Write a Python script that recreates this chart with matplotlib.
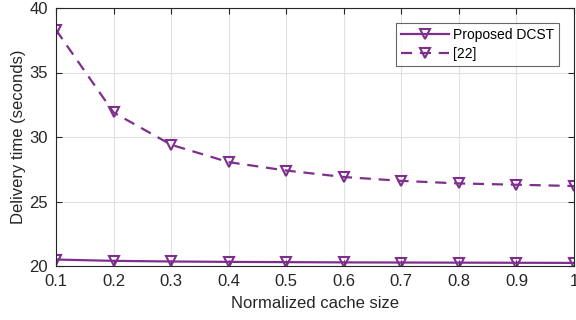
import matplotlib
matplotlib.use("Agg")
import matplotlib.pyplot as plt

x = [0.1, 0.2, 0.3, 0.4, 0.5, 0.6, 0.7, 0.8, 0.9, 1.0]
proposed = [20.5, 20.4, 20.35, 20.32, 20.3, 20.28, 20.27, 20.26, 20.25, 20.24]
ref22 = [38.3, 31.9, 29.4, 28.05, 27.4, 26.9, 26.6, 26.4, 26.3, 26.2]
xticks = [0.1, 0.2, 0.3, 0.4, 0.5, 0.6, 0.7, 0.8, 0.9, 1]
xticklabels = ["0.1", "0.2", "0.3", "0.4", "0.5", "0.6", "0.7", "0.8", "0.9", "1"]
yticks = [20, 25, 30, 35, 40]

plt.rcParams['font.family'] = ['Liberation Sans', 'DejaVu Sans']
color = '#7E2F8E'

fig = plt.figure(figsize=(5.76, 3.2), dpi=100)
ax = fig.add_axes([56/576, 1-266/320, (574-56)/576, (266-8)/320])
ax.plot(x, proposed, '-', color=color, lw=1.6, marker='v', markersize=7,
        markerfacecolor='none', markeredgewidth=1.5, label='Proposed DCST')
ax.plot(x, ref22, '--', color=color, lw=1.6, dashes=(5, 3.5), marker='v', markersize=7,
        markerfacecolor='none', markeredgewidth=1.5, label='[22]')
ax.set_xlim(0.1, 1.0)
ax.set_ylim(20, 40)
ax.set_xticks(xticks)
ax.set_xticklabels(xticklabels)
ax.set_yticks(yticks)
ax.grid(True, color='#e0e0e0', lw=0.8)
ax.set_axisbelow(True)
ax.tick_params(labelsize=12, colors='#262626', direction='in', length=4, top=True, right=True, pad=6)
for s in ax.spines.values():
    s.set_color('#262626')
    s.set_linewidth(0.8)
ax.set_xlabel('Normalized cache size', fontsize=12, color='#262626', labelpad=5)
ax.set_ylabel('Delivery time (seconds)', fontsize=12, color='#262626', labelpad=2)
leg = ax.legend(loc='upper right', fontsize=10, frameon=True, fancybox=False,
                edgecolor='#404040', borderaxespad=1.1, handlelength=3.4,
                borderpad=0.35, labelspacing=0.35, handletextpad=0.3)
leg.get_frame().set_linewidth(0.8)
fig.savefig('out.png', dpi=100)
